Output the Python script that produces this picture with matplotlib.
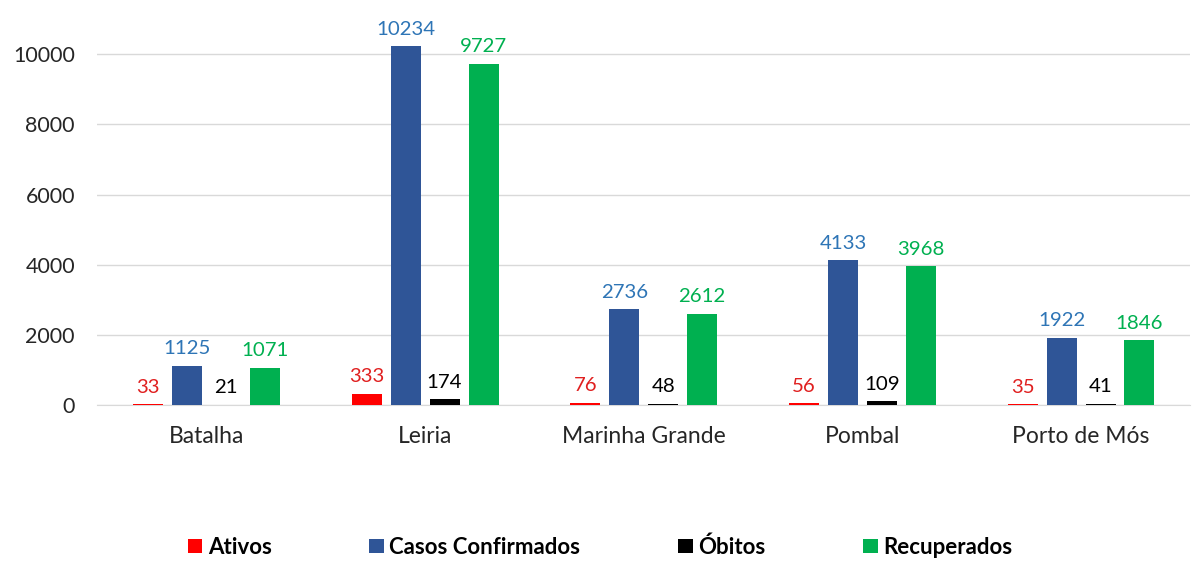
import matplotlib.pyplot as plt
import numpy as np

plt.rcParams['font.family'] = ['Lato', 'DejaVu Sans']

# dados
concelhos = ['Batalha', 'Leiria', 'Marinha Grande', 'Pombal', 'Porto de Mós']
ativos = [33, 333, 76, 56, 35]
confirmados = [1125, 10234, 2736, 4133, 1922]
obitos = [21, 174, 48, 109, 41]
recuperados = [1071, 9727, 2612, 3968, 1846]

series = [
    ('Ativos', ativos, '#ff0000', '#e02020'),
    ('Casos Confirmados', confirmados, '#2f5597', '#2e75b6'),
    ('Óbitos', obitos, '#000000', '#000000'),
    ('Recuperados', recuperados, '#00b050', '#00b050'),
]

fig = plt.figure(figsize=(12, 5.74), dpi=100)
ax = fig.add_axes([0.081, 0.294, 0.911, 0.673])

x = np.arange(len(concelhos))
w = 0.137
step = 0.178
for i, (nome, vals, cor, cor_txt) in enumerate(series):
    pos = x + (i - 1.5) * step
    bars = ax.bar(pos, vals, width=w, color=cor, label=nome, zorder=3)
    for b, v in zip(bars, vals):
        ax.annotate(str(v), (b.get_x() + b.get_width() / 2, v),
                    xytext=(0, 6), textcoords='offset points',
                    ha='center', va='bottom', fontsize=14.7, color=cor_txt)

ax.set_xlim(-0.5, len(concelhos) - 0.5)
ax.set_ylim(0, 11000)
ax.set_yticks(np.arange(0, 10001, 2000))
ax.set_xticks(x)
ax.set_xticklabels(concelhos, fontsize=16.5)
ax.tick_params(axis='both', length=0, colors='#262626')
ax.tick_params(axis='y', pad=16, labelsize=15.5)
ax.tick_params(axis='x', pad=15)
ax.grid(axis='y', color='#d9d9d9', linewidth=1, zorder=0)
for s in ['top', 'right', 'left']:
    ax.spines[s].set_visible(False)
ax.spines['bottom'].set_color('#d9d9d9')

leg = fig.legend(loc='center', bbox_to_anchor=(0.5, 0.047), ncol=4, frameon=False,
                 fontsize=16, handlelength=0.65, handleheight=0.65, handletextpad=0.25,
                 columnspacing=4.4)
for t in leg.get_texts():
    t.set_fontweight('bold')

plt.savefig('out.png')
